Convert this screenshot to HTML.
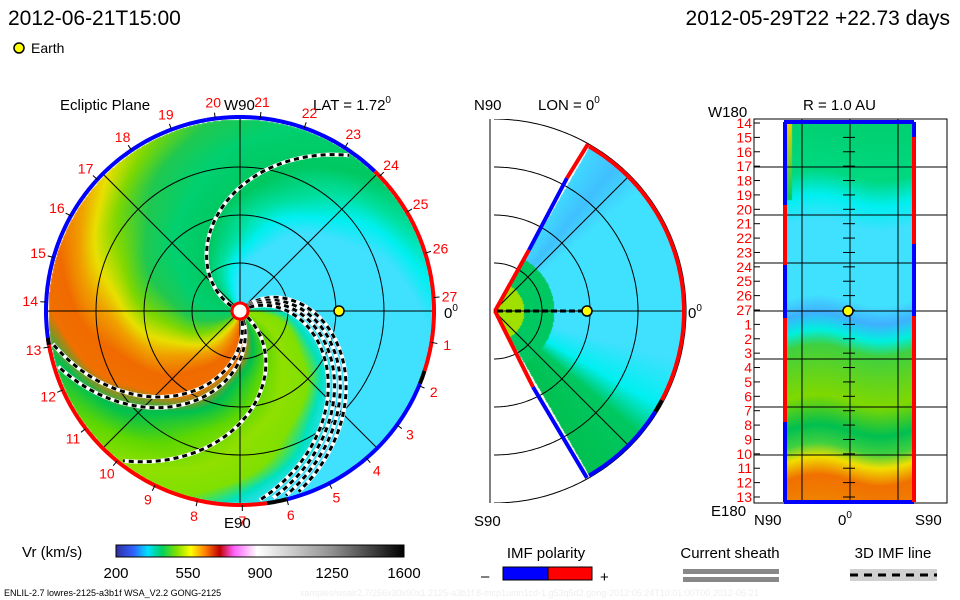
<!DOCTYPE html>
<html><head><meta charset="utf-8"><style>
html,body{margin:0;padding:0;background:#fff;}
#wrap{position:relative;width:960px;height:600px;overflow:hidden;font-family:"Liberation Sans",sans-serif;}
canvas,svg{position:absolute;left:0;top:0;}
</style></head><body>
<div id="wrap">
<canvas id="cv" width="960" height="600"></canvas>
<svg id="sv" width="960" height="600" viewBox="0 0 960 600" font-family="Liberation Sans, sans-serif">
<defs>
<linearGradient id="cbar" x1="0" x2="1" y1="0" y2="0">
<stop offset="0" stop-color="#3030a0"/><stop offset="0.06" stop-color="#3060ff"/><stop offset="0.11" stop-color="#00e0ff"/>
<stop offset="0.16" stop-color="#00d060"/><stop offset="0.21" stop-color="#80e000"/><stop offset="0.26" stop-color="#ffff00"/>
<stop offset="0.31" stop-color="#ff8000"/><stop offset="0.36" stop-color="#c00000"/><stop offset="0.41" stop-color="#ff60ff"/>
<stop offset="0.49" stop-color="#ffffff"/><stop offset="0.75" stop-color="#909090"/><stop offset="1" stop-color="#000000"/>
</linearGradient>
<clipPath id="midclip"><rect x="490" y="119" width="470" height="384"/></clipPath>
</defs>
<text x="8" y="25" font-size="21">2012-06-21T15:00</text>
<text x="950" y="25" font-size="21" text-anchor="end">2012-05-29T22 +22.73 days</text>
<circle cx="19" cy="48" r="5" fill="#ffff00" stroke="#000" stroke-width="1.5"/>
<text x="31" y="53" font-size="14">Earth</text>

<text x="60" y="110" font-size="15">Ecliptic Plane</text>
<text x="224" y="110" font-size="15">W90</text>
<text x="313" y="110" font-size="15">LAT = 1.72<tspan font-size="10" dy="-7">0</tspan></text>
<text x="224" y="528" font-size="15">E90</text>
<text x="444" y="318" font-size="15">0<tspan font-size="10" dy="-7">0</tspan></text>
<g id="ecl"></g>

<text x="474" y="110" font-size="15">N90</text>
<text x="538" y="110" font-size="15">LON = 0<tspan font-size="10" dy="-7">0</tspan></text>
<text x="474" y="526" font-size="15">S90</text>
<text x="688" y="318" font-size="15">0<tspan font-size="10" dy="-7">0</tspan></text>
<g id="mer"></g>

<text x="708" y="117" font-size="15">W180</text>
<text x="803" y="110" font-size="15">R = 1.0 AU</text>
<text x="711" y="516" font-size="15">E180</text>
<text x="754" y="525" font-size="15">N90</text>
<text x="838" y="525" font-size="15">0<tspan font-size="10" dy="-7">0</tspan></text>
<text x="915" y="525" font-size="15">S90</text>
<g id="rad"></g>

<text x="22" y="557" font-size="15">Vr (km/s)</text>
<rect x="116" y="545" width="288" height="12" fill="url(#cbar)" stroke="#000" stroke-width="1"/>
<g id="cticks"></g>

<text x="546" y="558" font-size="15" text-anchor="middle">IMF polarity</text>
<rect x="503" y="567" width="45" height="13" fill="#0000ff" stroke="#000"/>
<rect x="548" y="567" width="44" height="13" fill="#ff0000" stroke="#000"/>
<text x="481" y="581" font-size="15">–</text>
<text x="600" y="582" font-size="15">+</text>
<text x="730" y="558" font-size="15" text-anchor="middle">Current sheath</text>
<rect x="683" y="569" width="96" height="5" fill="#888"/>
<rect x="683" y="577" width="96" height="5" fill="#888"/>
<text x="893" y="558" font-size="15" text-anchor="middle">3D IMF line</text>
<rect x="850" y="569" width="87" height="12" fill="#d0d0d0"/>
<line x1="850" y1="575" x2="937" y2="575" stroke="#000" stroke-width="3" stroke-dasharray="8,6"/>
<text x="4" y="596" font-size="9">ENLIL-2.7 lowres-2125-a3b1f WSA_V2.2 GONG-2125</text>
<text x="300" y="596" font-size="9" fill="#eeeeee">xamples/wsalr2.7/256x30x90x1.2125-a3b1f.8-mcp1umn1cd-1.g53q5d2.gong-2012:05:24T10:01:00T00   2012-06-21</text>
</svg>
</div>
<script>
const cbTicks=["200","550","900","1250","1600"];
const dayLabels=["27","1","2","3","4","5","6","7","8","9","10","11","12","13","14","15","16","17","18","19","20","21","22","23","24","25","26"];
const radRows=["14","15","16","17","18","19","20","21","22","23","24","25","26","27","1","2","3","4","5","6","7","8","9","10","11","12","13"];
const NS="http://www.w3.org/2000/svg";
function mk(p,t,a){const e=document.createElementNS(NS,t);for(const k in a)e.setAttribute(k,a[k]);p.appendChild(e);return e;}
function hex(c){return [parseInt(c.substr(1,2),16),parseInt(c.substr(3,2),16),parseInt(c.substr(5,2),16)];}
function interp(tab,v){
 if(v<=tab[0][0])return hex(tab[0][1]);
 for(let i=1;i<tab.length;i++){if(v<=tab[i][0]){const a=tab[i-1],b=tab[i],t=(v-a[0])/(b[0]-a[0]);const A=hex(a[1]),B=hex(b[1]);return [0,1,2].map(j=>A[j]+(B[j]-A[j])*t);}}
 return hex(tab[tab.length-1][1]);
}
const cx=240,cy=311,R=192;
const cv=document.getElementById('cv'),ctx=cv.getContext('2d');
const img=ctx.createImageData(960,600),d=img.data;
const eclTab=[[-140,"#00c050"],[-120,"#60d800"],[-100,"#90e000"],[-80,"#80e000"],[-68,"#00e0c0"],[-55,"#40e0ff"],[20,"#40e0ff"],[35,"#00f0f0"],[50,"#00e0a0"],[70,"#00c860"],[100,"#00d070"],[125,"#20c850"],[145,"#80d800"],[160,"#e8e000"],[172,"#f0a000"],[188,"#f06a00"],[205,"#f07000"],[220,"#00c050"]];
const midTab=[[-60,"#00c050"],[-40,"#00c860"],[-30,"#00f0f0"],[-15,"#40e0ff"],[40,"#40e0ff"],[50,"#40c0ff"],[60,"#40d8ff"]];
const radTab=[[123,"#00d070"],[175,"#00d880"],[200,"#00f0f0"],[225,"#40e0ff"],[300,"#40e0ff"],[318,"#40b0ff"],[335,"#00f0e0"],[350,"#40d040"],[400,"#80d800"],[430,"#00c050"],[448,"#40d040"],[462,"#f0e000"],[480,"#f07000"],[502,"#f08000"]];
function put(x,y,c){const i=(y*960+x)*4;d[i]=c[0];d[i+1]=c[1];d[i+2]=c[2];d[i+3]=255;}
for(let y=0;y<600;y++)for(let x=0;x<960;x++){
 const dx=x-cx,dy=cy-y,r=Math.hypot(dx,dy);
 if(r<=R){let ph=Math.atan2(dy,dx)*180/Math.PI;let psi=ph+0.6*(r-150)+1.5*Math.sin(r/9);
  while(psi<-140)psi+=360;while(psi>=220)psi-=360;put(x,y,interp(eclTab,psi));continue;}
 const mx=x-494,my=311-y,mr=Math.hypot(mx,my);
 if(mr<=190&&mx>0){const th=Math.atan2(my,mx)*180/Math.PI;if(Math.abs(th)<=60){
  let c=interp(midTab,th);if(mr<60){c=hex(mr<30?"#a0e000":"#00c860");}put(x,y,c);continue;}}
 if(x>=786&&x<=913&&y>=123&&y<=502){let v=y+6*Math.sin((x-786)/20);let c=interp(radTab,v);
  if(x<792&&y<200)c=interp([[123,"#f0d000"],[200,"#00c860"]],y);put(x,y,c);}
}
ctx.putImageData(img,0,0);
const ecl=document.getElementById('ecl');
function pt(r,deg){const a=deg*Math.PI/180;return [cx+r*Math.cos(a),cy-r*Math.sin(a)];}
[48,96,144].forEach(r=>{const c=mk(ecl,'circle',{cx,cy,r,fill:'none',stroke:'#000','stroke-width':1});

});
[0,45,90,135].forEach(a=>{const p=pt(R,a),q=pt(R,a+180);const l=mk(ecl,'line',{x1:p[0],y1:p[1],x2:q[0],y2:q[1],stroke:'#000','stroke-width':1});

});
[[150,55],[38,-72],[33,-76],[28,-80],[22,-84],[-40,-128],[-70,-163],[-78,-170]].forEach(s=>{
 let pts=[];for(let r=10;r<=R-2;r+=3){pts.push(pt(r,s[0]+(s[1]-s[0])*(r-10)/(R-12)).map(v=>v.toFixed(1)).join(','));}
 const w=mk(ecl,'polyline',{points:pts.join(' '),fill:'none',stroke:'#fff','stroke-width':4});
 
 
 const b=mk(ecl,'polyline',{points:pts.join(' '),fill:'none',stroke:'#000','stroke-width':3,'stroke-dasharray':'5,4'});
 
 
});
function arc(g,r,a1,a2,col,w,ox,oy){const a=[];for(let t=a1;t<=a2;t+=1){const q=t*Math.PI/180;a.push((ox+r*Math.cos(q)).toFixed(1)+','+(oy-r*Math.sin(q)).toFixed(1));}
 const e=mk(g,'polyline',{points:a.join(' '),fill:'none',stroke:col,'stroke-width':w});return e;}
[[46,100,"#0000ff"],[100,190,"#0000ff"],[-18,46,"#ff0000"],[-22,-18,"#000"],[-76,-22,"#0000ff"],[-82,-76,"#000"],[-172,-82,"#ff0000"],[188,190,"#000"]].forEach(s=>{
 const e=arc(ecl,R+2,s[0],s[1],s[2],4,cx,cy);
 
 });
dayLabels.forEach((lab,k)=>{const a=4-k*360/27;const p=pt(210,a);
 const t=mk(ecl,'text',{x:p[0].toFixed(1),y:(p[1]+5).toFixed(1),'font-size':14,fill:'#ff0000','text-anchor':'middle'});t.textContent=lab;
 
 
 const p1=pt(R+2,a),p2=pt(R+8,a);const tk=mk(ecl,'line',{x1:p1[0],y1:p1[1],x2:p2[0],y2:p2[1],stroke:'#000'});
 
 });
const sun=mk(ecl,'circle',{cx,cy,r:8,fill:'#fff',stroke:'#ff0000','stroke-width':3});


const ea=mk(ecl,'circle',{cx:339,cy:311,r:5,fill:'#ffff00',stroke:'#000','stroke-width':1.5});


const mer=document.getElementById('mer');
const mg=mk(mer,'g',{'clip-path':'url(#midclip)'});
[48,96,144,192].forEach(r=>{const e=arc(mg,r,-90,90,'#000',1,494,311);});
[[45],[-45],[0]].forEach(s=>{const q=s[0]*Math.PI/180;const l=mk(mer,'line',{x1:494,y1:311,x2:494+190*Math.cos(q),y2:311-190*Math.sin(q),stroke:'#000'});

});
const ml=mk(mer,'line',{x1:490,y1:119,x2:490,y2:503,stroke:'#000'});


function seg(g,x1,y1,x2,y2,c){const l=mk(g,'line',{x1,y1,x2,y2,stroke:c,'stroke-width':4});}
seg(mer,495,311,529,250,'#ff0000');seg(mer,529,250,567,178,'#0000ff');seg(mer,567,178,588,144,'#ff0000');
seg(mer,495,311,533,387,'#ff0000');seg(mer,533,387,587,478,'#0000ff');
[[-28,60,'#ff0000'],[-32,-28,'#000'],[-60,-32,'#0000ff']].forEach(s=>{const e=arc(mer,190,s[0],s[1],s[2],4,494,311);});
const mdl=mk(mer,'line',{x1:497,y1:311,x2:587,y2:311,stroke:'#000','stroke-width':3,'stroke-dasharray':'6,3'});


const me=mk(mer,'circle',{cx:587,cy:311,r:5,fill:'#ffff00',stroke:'#000','stroke-width':1.5});


const rad=document.getElementById('rad');
const rb=mk(rad,'rect',{x:754,y:119,width:193,height:384,fill:'none',stroke:'#000'});


[167,215,263,311,359,407,455].forEach(y=>{const l=mk(rad,'line',{x1:754,y1:y,x2:947,y2:y,stroke:'#000'});});
[802,850,898].forEach(x=>{const l=mk(rad,'line',{x1:x,y1:119,x2:x,y2:503,stroke:'#000'});});
radRows.forEach((lab,k)=>{const y=123+k*(374/26);
 const t=mk(rad,'text',{x:752,y:(y+5).toFixed(1),'font-size':14,fill:'#ff0000','text-anchor':'end'});t.textContent=lab;
 
 
 const l=mk(rad,'line',{x1:754,y1:y,x2:760,y2:y,stroke:'#000'});
 const l2=mk(rad,'line',{x1:843,y1:y,x2:855,y2:y,stroke:'#000'});});
function rs(x1,y1,x2,y2,c){const l=mk(rad,'line',{x1,y1,x2,y2,stroke:c,'stroke-width':4});}
rs(784,122,914,122,'#0000ff');rs(784,502,914,502,'#0000ff');
rs(785,122,785,205,'#0000ff');rs(785,205,785,265,'#ff0000');rs(785,265,785,318,'#0000ff');rs(785,318,785,422,'#ff0000');rs(785,422,785,502,'#0000ff');
rs(914,122,914,137,'#0000ff');rs(914,137,914,244,'#ff0000');rs(914,244,914,316,'#0000ff');rs(914,316,914,502,'#ff0000');
const re=mk(rad,'circle',{cx:848,cy:311,r:5,fill:'#ffff00',stroke:'#000','stroke-width':1.5});


const ct=document.getElementById('cticks');
cbTicks.forEach((lab,k)=>{const x=116+k*288/(cbTicks.length-1);const t=mk(ct,'text',{x,y:578,'font-size':15,'text-anchor':'middle'});t.textContent=lab;
 
 });
</script>
</body></html>
